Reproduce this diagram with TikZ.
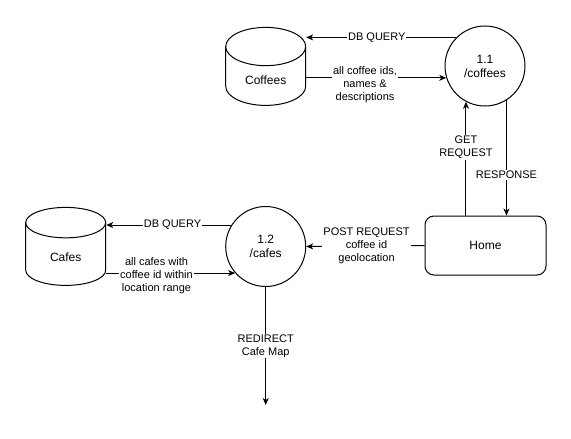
\documentclass[tikz,border=0pt]{standalone}
\usepackage{fontspec}
\setmainfont{Liberation Sans}
\usetikzlibrary{arrows.meta,shapes.geometric,positioning}

\begin{document}
\begin{tikzpicture}[x=1pt,y=-1pt,line width=1pt,
  store/.style={cylinder,shape border rotate=90,draw,aspect=0.8,minimum width=80pt,minimum height=78pt,font=\fontsize{12}{14}\selectfont},
  proc/.style={circle,draw,minimum size=80pt,align=center,font=\fontsize{12}{14}\selectfont},
  ext/.style={rectangle,draw,rounded corners=9pt,minimum width=121pt,minimum height=59pt,font=\fontsize{12}{14}\selectfont},
  flow/.style={-{Stealth[length=7pt,width=6pt,inset=2pt]}},
  lbl/.style={fill=white,inner sep=1pt,align=center,font=\fontsize{11}{13}\selectfont}]
\useasboundingbox (0,0) rectangle (571,439);
\node[store,anchor=shape center] (coffees) at (265.7,66.4) {Coffees};
\node[store,anchor=shape center] (cafes) at (65.7,246.4) {Cafes};
\node[proc] (pcoffees) at (485,66) {1.1\\/coffees};
\node[proc] (pcafes) at (265.7,246.5) {1.2\\/cafes};
\node[ext] (home) at (485.5,245.5) {Home};
\coordinate (mapend) at (265.7,405);
% coffees process
\draw[flow] (pcoffees.135) -- node[lbl,pos=0.53] {DB QUERY} (pcoffees.135 -| coffees.east);
\draw[flow] (pcoffees.197 -| coffees.east) -- node[lbl,pos=0.42,yshift=-7pt] {all coffee ids,\\names \&\\descriptions} (pcoffees.197);
\draw[flow] (pcoffees.242 |- home.north) -- node[lbl,pos=0.6] {GET\\REQUEST} (pcoffees.242);
\draw[flow] (pcoffees.302) -- node[lbl,pos=0.65] {RESPONSE} (pcoffees.302 |- home.north);
% cafes process
\draw[flow] (home.west) -- node[lbl,pos=0.49] {POST REQUEST\\coffee id\\geolocation} (pcafes.east);
\draw[flow] (pcafes.148) -- node[lbl,pos=0.47] {DB QUERY} (pcafes.148 -| cafes.east);
\draw[flow] (pcafes.221 -| cafes.east) -- node[lbl,pos=0.39,yshift=-3pt] {all cafes with\\coffee id within\\location range} (pcafes.221);
\draw[flow] (pcafes.south) -- node[lbl] {REDIRECT\\Cafe Map} (mapend);
\end{tikzpicture}
\end{document}
